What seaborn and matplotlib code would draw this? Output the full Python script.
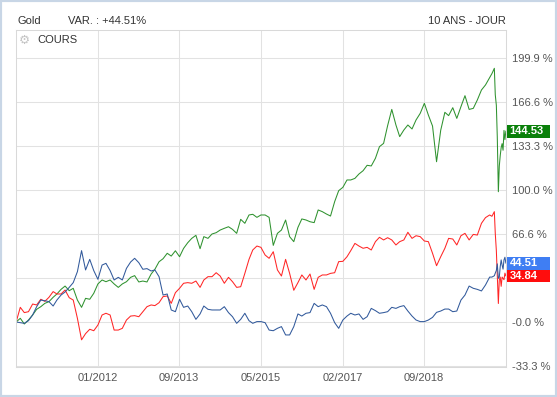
import matplotlib
matplotlib.use("Agg")
import matplotlib.pyplot as plt
import matplotlib.transforms as mtrans
from matplotlib.patches import Rectangle
import numpy as np
import pandas as pd
import seaborn as sns

# ---------------- data (percent change) ----------------
# monthly points, mid-month, May 2010 .. Dec 2019
monthly_start = "2010-05-01"
n_monthly = 116
# denser points for 2020
dates_2020 = ["2020-01-15", "2020-02-01", "2020-02-19", "2020-02-26", "2020-03-05",
              "2020-03-12", "2020-03-20", "2020-03-27", "2020-04-03", "2020-04-10",
              "2020-04-17", "2020-04-24", "2020-05-01", "2020-05-08", "2020-05-15"]

gold = [0, -0.5, -1.0, 1.0, 5.3, 11.6, 16.6, 16.1, 15.4, 12.1,
        16.6, 20.4, 22.7, 26.2, 29.8, 38.1, 54.0, 39.4, 47.4, 38.9,
        32.3, 43.1, 44.4, 38.9, 31.8, 33.8, 31.8, 40.6, 45.4, 48.2,
        44.9, 39.9, 40.4, 38.6, 39.4, 34.3, 20.4, 21.2, 9.1, 7.8,
        17.2, 11.1, 12.1, 7.8, 2.0, 6.1, 12.1, 9.6, 9.1, 9.1,
        9.1, 11.6, 7.1, 4.0, -1.0, 2.0, 6.6, 1.0, -1.0, 0.3,
        0.3, -0.5, -6.1, -6.6, -4.8, -3.5, -9.8, -9.8, -3.5, 6.1,
        4.5, 6.6, 7.1, 14.1, 11.6, 12.9, 11.6, 6.6, -0.5, -4.8,
        1.5, 4.5, 6.6, 5.3, 6.1, 2.0, 4.0, 10.3, 8.6, 6.6,
        7.1, 7.8, 11.1, 10.3, 11.6, 12.4, 8.3, 4.5, 1.5, 0.3,
        0.3, 1.5, 3.5, 7.3, 8.3, 9.8, 9.8, 7.8, 8.3, 16.6,
        20.4, 27.2, 25.5, 24.7, 23.5, 28.0]
gold_2020 = [34, 34, 35, 37, 39, 44, 33, 34, 42, 47, 43, 40, 47, 49, 44.51]

green = [0, 2.8, -1.5, 1.5, 5.3, 9.6, 11.6, 14.1, 15.4, 18.7,
         21.2, 24.7, 27.2, 23.7, 25.5, 16.6, 11.1, 17.9, 17.2, 21.7,
         28.8, 31.8, 30.5, 31.8, 28.8, 26.2, 28.8, 30.5, 33.8, 35.1,
         30.3, 31.0, 30.3, 36.3, 39.9, 45.6, 47.9, 52.0, 49.9, 53.9,
         49.4, 55.7, 60.0, 63.3, 65.6, 55.5, 64.6, 63.3, 66.6, 67.6,
         69.6, 70.9, 72.1, 70.1, 67.1, 77.7, 74.7, 81.0, 81.5, 79.2,
         81.0, 81.0, 79.2, 58.0, 67.1, 69.6, 77.2, 64.6, 60.8, 71.6,
         78.0, 77.2, 75.9, 75.2, 84.8, 83.5, 81.7, 80.2, 91.1, 99.4,
         101.9, 107.5, 107.5, 108.7, 112.0, 114.5, 118.6, 118.1, 123.9, 132.7,
         135.2, 148.6, 160.9, 149.1, 140.3, 145.3, 149.1, 146.1, 152.9, 157.9,
         165.5, 156.6, 148.3, 121.3, 145.1, 158.7, 156.2, 162.2, 154.1, 163.0,
         171.3, 160.9, 161.7, 168.0, 175.6, 179.4]
green_2020 = [185, 188, 192, 172, 164, 140, 98.6, 118, 126, 132, 135, 130, 145, 138, 144.53]

red = [0, 11.1, 7.1, 7.8, 13.6, 12.9, 17.2, 15.6, 18.7, 23.0,
       21.2, 21.2, 24.2, 18.4, 16.6, 2.8, -13.5, -8.8, -5.5, -6.6,
       -2.3, 5.3, 6.6, 5.3, -6.1, -6.1, -4.8, 1.5, 4.5, 4.8,
       4.0, 7.8, 11.6, 12.9, 12.4, 14.6, 19.2, 19.7, 14.1, 22.2,
       25.5, 29.3, 29.8, 29.3, 31.0, 26.2, 31.8, 34.3, 34.3, 37.3,
       34.8, 29.3, 33.8, 30.5, 26.2, 26.7, 36.8, 47.4, 54.5, 57.5,
       56.5, 50.7, 48.2, 53.2, 39.4, 34.8, 47.4, 36.8, 24.0, 29.8,
       35.6, 31.8, 36.3, 24.7, 33.8, 35.6, 35.6, 36.8, 37.3, 45.7,
       45.9, 49.4, 54.0, 59.5, 57.5, 55.8, 56.5, 54.5, 60.8, 64.1,
       62.1, 63.8, 62.1, 58.3, 60.8, 62.1, 67.9, 63.3, 65.3, 64.6,
       61.3, 60.8, 52.0, 42.6, 49.4, 55.8, 63.3, 62.8, 58.3, 65.3,
       67.1, 62.1, 66.3, 65.8, 74.7, 79.0]
red_2020 = [81, 80, 83.5, 67, 54, 35, 14, 32, 34, 27, 34, 33, 32, 37, 34.84]

xtick_dates = ["2012-01-14", "2013-09-12", "2015-05-14", "2017-01-13", "2018-09-13"]
xtick_labels = ["01/2012", "09/2013", "05/2015", "02/2017", "09/2018"]
ytick_values = [-33.3, 0.0, 33.3, 66.6, 100.0, 133.3, 166.6, 199.9]
# the 33.3 % label is hidden behind the last-value boxes in the reference
ytick_labels = ["-33.3 %", "-0.0 %", "", "66.6 %", "100.0 %", "133.3 %", "166.6 %", "199.9 %"]

series_names = ["Série verte", "Série rouge", "Gold"]
line_colors = {"Série verte": "#2f922f", "Série rouge": "#ff2626", "Gold": "#31599b"}
box_colors = {"Série verte": "#0a800a", "Série rouge": "#ff0d0d", "Gold": "#3f7ef3"}

# ---------------- build table ----------------
monthly_dates = pd.date_range(monthly_start, periods=n_monthly, freq="MS") + pd.Timedelta(days=14)
all_dates = list(monthly_dates) + list(pd.to_datetime(dates_2020))
values = {"Série verte": green + green_2020,
          "Série rouge": red + red_2020,
          "Gold": gold + gold_2020}
frames = []
for name in series_names:
    frames.append(pd.DataFrame({"date": all_dates, "value": values[name], "series": name}))
df = pd.concat(frames, ignore_index=True)

# ---------------- figure ----------------
sns.set_style("white")
plt.rcParams["font.family"] = ["Liberation Sans", "DejaVu Sans"]

W, H = 557, 397
fig = plt.figure(figsize=(W / 100, H / 100), dpi=100)
ax_l, ax_r, ax_t, ax_b = 16, 506, 30, 367
ax = fig.add_axes([ax_l / W, 1 - ax_b / H, (ax_r - ax_l) / W, (ax_b - ax_t) / H])

sns.lineplot(data=df, x="date", y="value", hue="series", hue_order=series_names,
             palette=line_colors, linewidth=0.75, legend=False, estimator=None, ax=ax)

ymin, ymax = -34.06, 221.0
ax.set_xlim(pd.Timestamp("2010-05-14"), pd.Timestamp("2020-05-16"))
ax.set_ylim(ymin, ymax)
ax.set_xticks(pd.to_datetime(xtick_dates))
ax.set_xticklabels(xtick_labels)
ax.set_yticks(ytick_values)
ax.set_yticklabels(ytick_labels)
ax.yaxis.tick_right()
ax.set_xlabel("")
ax.set_ylabel("")
ax.tick_params(axis="both", length=0, labelsize=8, colors="#555555")
ax.tick_params(axis="x", pad=4.5)
ax.tick_params(axis="y", pad=4.3)
ax.grid(True, color="#e2e2e2", linewidth=0.75)
ax.set_axisbelow(True)
for sp in ax.spines.values():
    sp.set_color("#d9d9d9")
    sp.set_linewidth(0.75)

# last-value boxes on the right
trans = mtrans.blended_transform_factory(ax.transAxes, ax.transData)
ax_w_px = ax_r - ax_l
unit_per_px = (ymax - ymin) / (ax_b - ax_t)
hh = 6.5 * unit_per_px
for name in series_names:
    v = values[name][-1]
    ax.add_patch(Rectangle((1 + 1.5 / ax_w_px, v - hh), 43 / ax_w_px, 2 * hh,
                           transform=trans, facecolor=box_colors[name], edgecolor="none",
                           clip_on=False, zorder=5))
    ax.text(1 + 3.5 / ax_w_px, v, f"{v:.2f}", transform=trans, ha="left", va="center",
            color="white", fontsize=8, fontweight="bold", clip_on=False, zorder=6)

# "COURS" tab label with gear
ax.text((24 - ax_l) / ax_w_px, 1 - 10 / (ax_b - ax_t), "\u2699", transform=ax.transAxes,
        ha="center", va="center", fontsize=9, color="#c4c4c4", family=["DejaVu Sans"])
ax.text((37 - ax_l) / ax_w_px, 1 - 10 / (ax_b - ax_t), "COURS", transform=ax.transAxes,
        ha="left", va="center", fontsize=8, color="#333333")

# header
fig.text(17 / W, 1 - 21 / H, "Gold", ha="left", va="center", fontsize=8, color="#333333")
fig.text(67.5 / W, 1 - 21 / H, "VAR. : +44.51%", ha="left", va="center", fontsize=8, color="#333333")
fig.text(506 / W, 1 - 21 / H, "10 ANS - JOUR", ha="right", va="center", fontsize=8, color="#333333")

# outer frame
fig.add_artist(Rectangle((0, 0), 1, 1, transform=fig.transFigure, fill=False,
                         edgecolor="#c8d6e6", linewidth=3))

fig.savefig("out.png", dpi=100)
